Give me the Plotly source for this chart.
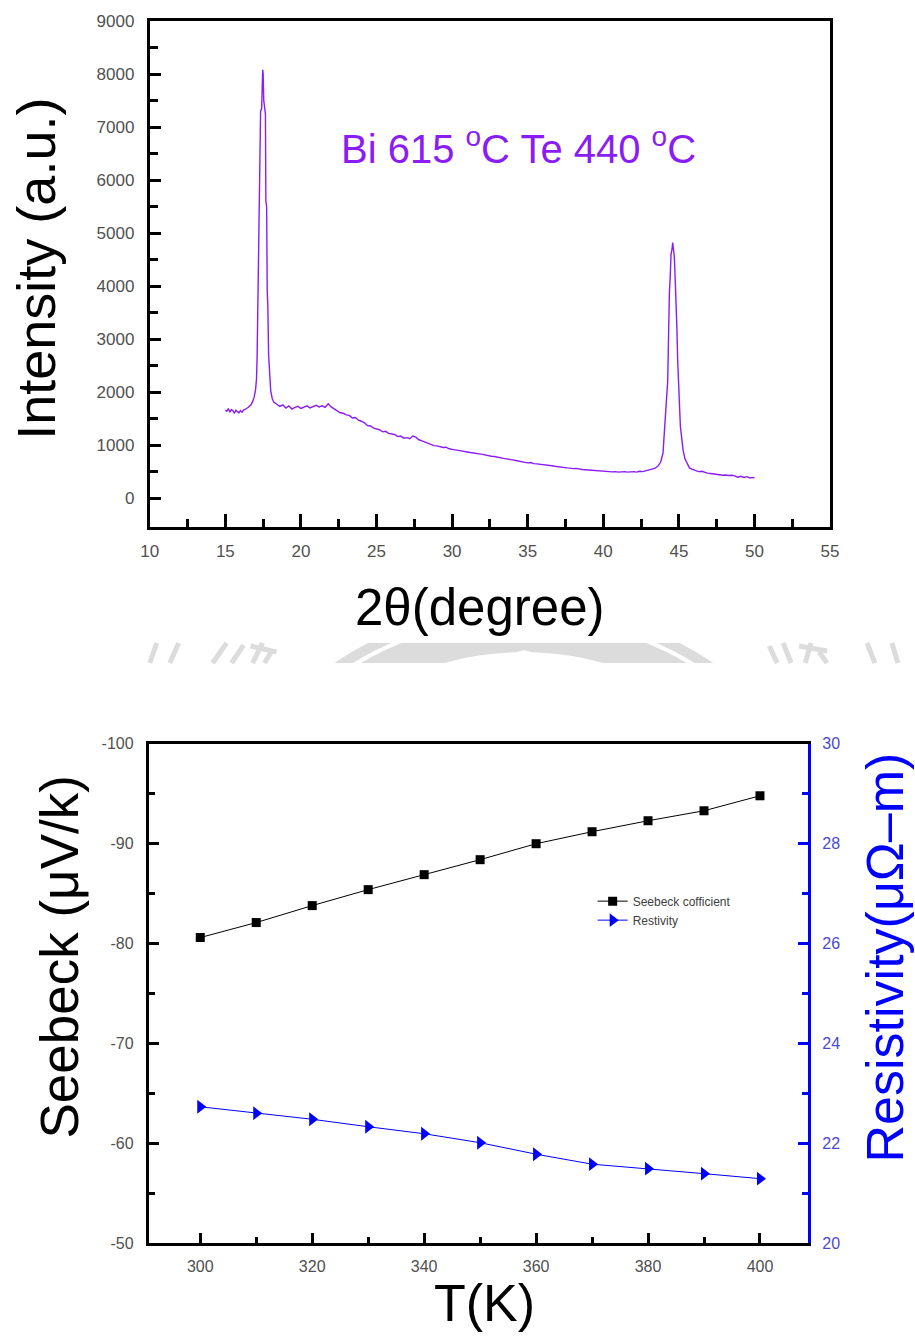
import numpy as np
import plotly.graph_objects as go

# ---------------- XRD pattern (Bi 615 °C, Te 440 °C) ----------------
two_theta = [
    15.0, 15.1, 15.2, 15.3, 15.4, 15.5, 15.6, 15.7, 15.8, 15.9,
    16.0, 16.1, 16.2, 16.3, 16.4, 16.5, 16.6, 16.7, 16.8, 16.9,
    17.0, 17.06, 17.1, 17.14, 17.17, 17.22, 17.25, 17.29, 17.33, 17.4,
    17.44, 17.47, 17.5, 17.54, 17.6, 17.65, 17.68, 17.73, 17.77, 17.81,
    17.86, 17.92, 18.0, 18.1, 18.2,
    18.4, 18.6, 18.8, 19.0, 19.2, 19.4, 19.6, 19.8, 20.0, 20.2,
    20.4, 20.6, 20.8, 21.0, 21.2, 21.4, 21.6, 21.8, 22.0, 22.2,
    22.4, 22.6, 22.8, 23.0, 23.2, 23.4, 23.6, 23.8, 24.0, 24.2,
    24.4, 24.6, 24.8, 25.0, 25.2, 25.4, 25.6, 25.8, 26.0, 26.2,
    26.4, 26.6, 26.8, 27.0, 27.2, 27.4, 27.6, 27.8, 28.0, 28.2,
    28.4, 28.6, 28.8, 29.0, 29.2, 29.4, 29.6, 29.8, 30.0, 30.2,
    30.4, 30.6, 30.8, 31.0, 31.2, 31.4, 31.6, 31.8, 32.0, 32.2,
    32.4, 32.6, 32.8, 33.0, 33.2, 33.4, 33.6, 33.8, 34.0, 34.2,
    34.4, 34.6, 34.8, 35.0, 35.2, 35.4, 35.6, 35.8, 36.0, 36.2,
    36.4, 36.6, 36.8, 37.0, 37.2, 37.4, 37.6, 37.8, 38.0, 38.2,
    38.4, 38.6, 38.8, 39.0, 39.2, 39.4, 39.6, 39.8, 40.0, 40.2,
    40.4, 40.6, 40.8, 41.0, 41.2, 41.4, 41.6, 41.8, 42.0, 42.2,
    42.4, 42.6, 42.8, 43.0, 43.2, 43.4, 43.6,
    43.8, 43.95, 44.03, 44.12, 44.2, 44.26, 44.3, 44.37, 44.43, 44.48,
    44.55, 44.59, 44.64, 44.7, 44.76, 44.81, 44.87, 44.92, 44.97, 45.03,
    45.1, 45.18, 45.28, 45.4, 45.55, 45.7,
    45.9, 46.1, 46.3, 46.5, 46.7, 46.9, 47.1, 47.3, 47.5, 47.7,
    47.9, 48.1, 48.3, 48.5, 48.7, 48.9, 49.1, 49.3, 49.5, 49.7,
    49.9, 50.0,
]
intensity = [
    1660, 1640, 1690, 1620, 1670, 1650, 1600, 1660, 1630, 1610,
    1650, 1620, 1660, 1670, 1690, 1710, 1730, 1760, 1820, 1900,
    2050, 2250, 2650, 3500, 4000, 4200, 5700, 5900, 7300, 7350,
    7700, 8080, 8000, 7500, 7350, 7250, 5600, 5500, 3900, 3600,
    2700, 2300, 2020, 1880, 1810,
    1770, 1730, 1760, 1700, 1740, 1680, 1710, 1730, 1690, 1720,
    1740, 1700, 1730, 1750, 1720, 1740, 1710, 1780, 1720, 1680,
    1650, 1610, 1600, 1570, 1560, 1510, 1520, 1470, 1450, 1420,
    1370, 1360, 1320, 1300, 1290, 1250, 1260, 1220, 1210, 1200,
    1160, 1170, 1130, 1140, 1120, 1170, 1150, 1100, 1080, 1060,
    1030, 1020, 990, 985, 970, 955, 960, 930, 920, 915,
    900, 890, 885, 870, 860, 855, 840, 835, 825, 810,
    805, 790, 785, 770, 765, 750, 740, 725, 720, 710,
    700, 690, 675, 665, 670, 650, 645, 640, 630, 625,
    615, 610, 600, 590, 590, 575, 570, 565, 555, 560,
    545, 540, 535, 530, 525, 520, 515, 510, 505, 500,
    505, 495, 500, 490, 495, 500, 490, 495, 500, 490,
    505, 500, 515, 525, 540, 560, 600,
    680, 850, 1150, 1600, 1950, 2200, 3100, 3850, 4200, 4600,
    4700, 4820, 4700, 4550, 4100, 3800, 3200, 2600, 2200, 1700,
    1350, 1150, 900, 740, 640, 570,
    540, 520, 500, 505, 480, 470, 465, 455, 450, 440,
    430, 435, 425, 430, 420, 395, 410, 390, 405, 380,
    390, 375,
]

# ---------------- Seebeck coefficient and resistivity vs T ----------------
temperature = [300, 310, 320, 330, 340, 350, 360, 370, 380, 390, 400]
seebeck = [-80.6, -82.1, -83.8, -85.4, -86.9, -88.4, -90.0, -91.2, -92.3, -93.3, -94.8]
resistivity = [22.73, 22.60, 22.48, 22.33, 22.19, 22.01, 21.78, 21.58, 21.49, 21.39, 21.29]

# tick labels
xrd_x_ticks = [10, 15, 20, 25, 30, 35, 40, 45, 50, 55]
xrd_y_ticks = [0, 1000, 2000, 3000, 4000, 5000, 6000, 7000, 8000, 9000]
t_ticks = [300, 320, 340, 360, 380, 400]
seebeck_ticks = [-100, -90, -80, -70, -60, -50]
seebeck_ticktext = ["-100", "-90", "-80", "-70", "-60", "-50"]
rho_ticks = [20, 22, 24, 26, 28, 30]

# The figure sits inside the page body's 8 px margin; layout positions below
# are given in page pixels of the final 915 x 1338 view and converted here.
W, H = 915, 1338
MARGIN = 8
SX = W / (W + 2 * MARGIN)
SY = H / (H + 2 * MARGIN)
FONT = "Arial, Liberation Sans, sans-serif"
PURPLE = "#8a1cf5"
BLUE = "#0000ff"
TICKGRAY = "#505050"


def px(x):
    return (x / SX - MARGIN) / W


def py(y):
    return 1 - (y / SY - MARGIN) / H


fig = go.Figure()

fig.add_trace(go.Scatter(
    x=two_theta, y=intensity, mode="lines",
    line=dict(color=PURPLE, width=1.4),
    xaxis="x", yaxis="y", showlegend=False,
))

fig.add_trace(go.Scatter(
    x=temperature, y=seebeck, mode="lines+markers",
    name="Seebeck cofficient",
    line=dict(color="black", width=1),
    marker=dict(symbol="square", size=9, color="black"),
    xaxis="x2", yaxis="y2",
))
fig.add_trace(go.Scatter(
    x=temperature, y=resistivity, mode="lines+markers",
    name="Restivity",
    line=dict(color=BLUE, width=1),
    marker=dict(symbol="triangle-right", size=12, color=BLUE),
    xaxis="x2", yaxis="y3",
))

axis_common = dict(
    showgrid=False, zeroline=False, showline=True, linewidth=3,
    linecolor="black", ticks="inside", tickwidth=3, tickcolor="black",
)


def minor(vals, length, color="black"):
    return dict(tickvals=vals, ticks="inside", ticklen=length,
                tickwidth=3, tickcolor=color)


fig.update_layout(
    # top panel axes
    xaxis=dict(
        axis_common, domain=[px(149), px(831)], anchor="y",
        range=[10, 55], tickvals=xrd_x_ticks, ticklen=13, mirror=True,
        ticklabelstandoff=6,
        tickfont=dict(family=FONT, size=17, color=TICKGRAY),
        minor=minor([12.5, 17.5, 22.5, 27.5, 32.5, 37.5, 42.5, 47.5, 52.5], 8),
    ),
    yaxis=dict(
        axis_common, domain=[py(527), py(20)], anchor="x",
        range=[-550, 9000], tickvals=xrd_y_ticks, ticklen=11, mirror=True,
        ticklabelstandoff=9,
        tickfont=dict(family=FONT, size=17, color=TICKGRAY),
        minor=minor([500, 1500, 2500, 3500, 4500, 5500, 6500, 7500, 8500], 8),
    ),
    # bottom panel axes
    xaxis2=dict(
        axis_common, domain=[px(148), px(809)], anchor="y2",
        range=[290.8, 408.6], tickvals=t_ticks, ticklen=10, mirror=True,
        ticklabelstandoff=7,
        tickfont=dict(family=FONT, size=16, color=TICKGRAY),
        minor=minor([310, 330, 350, 370, 390], 6),
    ),
    yaxis2=dict(
        axis_common, domain=[py(1244), py(744)], anchor="x2",
        range=[-50, -100], tickvals=seebeck_ticks, ticktext=seebeck_ticktext,
        ticklen=10, ticklabelstandoff=9,
        tickfont=dict(family=FONT, size=16, color=TICKGRAY),
        minor=minor([-95, -85, -75, -65, -55], 6),
    ),
    yaxis3=dict(
        showgrid=False, zeroline=False, showline=True, linewidth=3,
        linecolor=BLUE, ticks="inside", tickwidth=3, tickcolor=BLUE,
        overlaying="y2", side="right", anchor="x2",
        range=[20, 30], tickvals=rho_ticks, ticklen=10,
        ticklabelstandoff=8,
        tickfont=dict(family=FONT, size=16, color="#4a4ad0"),
        minor=minor([21, 23, 25, 27, 29], 6, BLUE),
    ),
)

annotations = [
    dict(text="Intensity (a.u.)", x=px(35), y=py(268), textangle=-90,
         font=dict(family=FONT, size=54, color="black")),
    dict(text="2θ(degree)", x=px(480), y=py(607),
         font=dict(family=FONT, size=51, color="black")),
    dict(text="Bi 615 <sup>o</sup>C Te 440 <sup>o</sup>C", x=px(519), y=py(145),
         font=dict(family=FONT, size=40, color=PURPLE)),
    dict(text="Seebeck (μV/k)", x=px(59), y=py(958), textangle=-90,
         font=dict(family=FONT, size=53, color="black")),
    dict(text="Resistivity(μΩ–m)", x=px(886), y=py(958), textangle=-90,
         font=dict(family=FONT, size=52, color=BLUE)),
    dict(text="T(K)", x=px(485), y=py(1304),
         font=dict(family=FONT, size=52, color="black")),
]
for a in annotations:
    a.update(xref="paper", yref="paper", showarrow=False,
             xanchor="center", yanchor="middle")

# faint seal watermark strip between the two panels
WM = "#dcdcdc"
Y0, Y1 = 643, 663
CX, CY = 524, 945


def disc_slice(r, color):
    ys = np.linspace(Y0, Y1, 12)
    hw = np.sqrt(np.clip(r ** 2 - (CY - ys) ** 2, 0, None))
    pts_r = [(CX + w, y) for w, y in zip(hw, ys)]
    pts_l = [(CX - w, y) for w, y in zip(hw[::-1], ys[::-1])]
    pts = pts_r + pts_l
    path = "M " + " L ".join(f"{px(x):.5f},{py(y):.5f}" for x, y in pts) + " Z"
    return dict(type="path", path=path, xref="paper", yref="paper",
                fillcolor=color, line=dict(width=0), layer="below")


shapes = [
    disc_slice(340, WM),
    disc_slice(330, "white"),
    disc_slice(326, WM),
    disc_slice(293, "white"),
]
strokes = [
    ((156, 643), (149, 663)), ((178, 643), (169, 663)),
    ((226, 643), (212, 663)), ((243, 645), (231, 663)),
    ((250, 646), (276, 652)), ((262, 643), (252, 663)),
    ((272, 650), (264, 663)),
    ((770, 646), (778, 663)), ((784, 643), (792, 663)),
    ((800, 646), (828, 651)), ((812, 643), (806, 663)),
    ((820, 652), (828, 663)),
    ((868, 643), (876, 663)), ((893, 643), (899, 663)),
]
for (x0, y0), (x1, y1) in strokes:
    shapes.append(dict(type="line", xref="paper", yref="paper",
                       x0=px(x0), y0=py(y0), x1=px(x1), y1=py(y1),
                       line=dict(color=WM, width=5), layer="below"))

fig.update_layout(
    width=W, height=H,
    margin=dict(l=0, r=0, t=0, b=0),
    paper_bgcolor="white", plot_bgcolor="white",
    annotations=annotations,
    shapes=shapes,
    legend=dict(
        x=px(593), y=py(887), xanchor="left", yanchor="top",
        bgcolor="rgba(0,0,0,0)", borderwidth=0,
        font=dict(family=FONT, size=12, color="#404040"),
        itemwidth=30, tracegroupgap=0,
    ),
)

fig.write_html("out.html")
